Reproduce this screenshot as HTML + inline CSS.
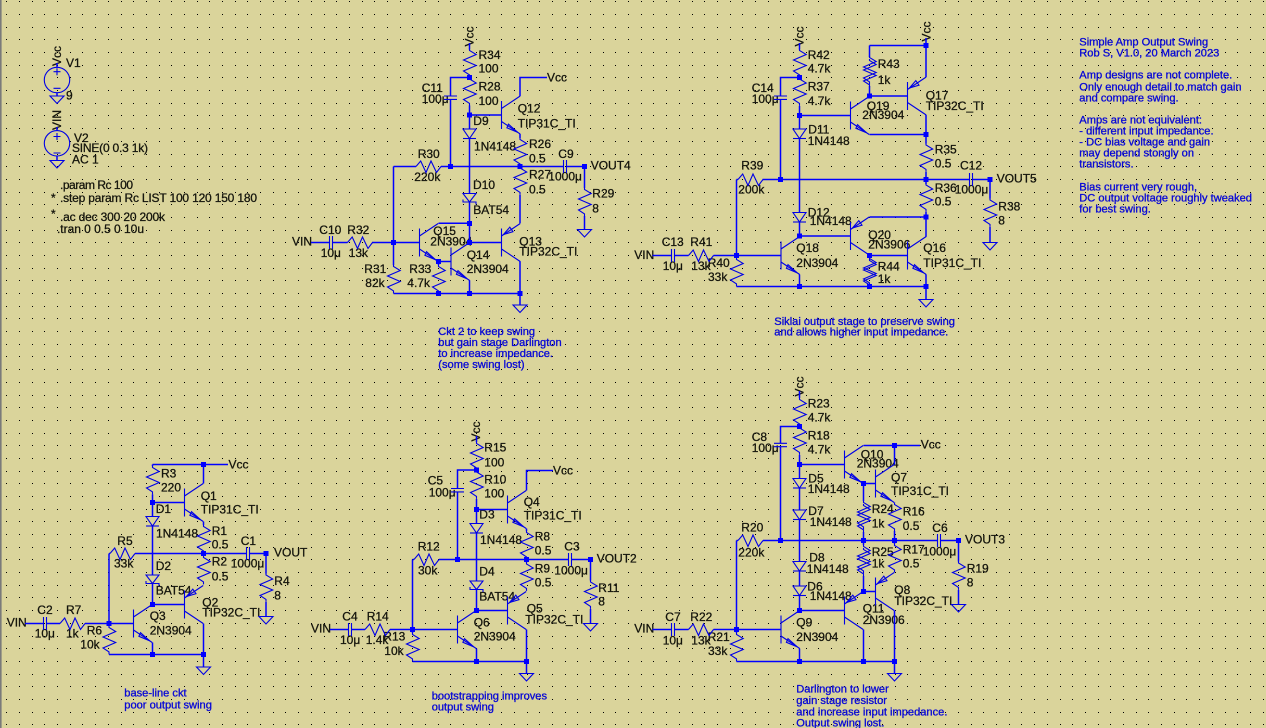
<!DOCTYPE html>
<html>
<head>
<meta charset="utf-8">
<style>
html,body{margin:0;padding:0;background:#dad49b;width:1266px;height:728px;overflow:hidden}
svg{display:block;position:absolute;left:0;top:0}
text{font-family:"Liberation Sans",sans-serif;font-size:12px;fill:#14140c;stroke:#14140c;stroke-width:.28;white-space:pre}
.n text{font-size:11.1px;fill:#0808d6;stroke:#0808d6;stroke-width:.32}
.w{fill:none;stroke:#0000ff;stroke-width:1.5}
.c,.c *{fill:none;stroke:#0000e6;stroke-width:1.1}
</style>
</head>
<body>
<svg id="s" width="1266" height="728" viewBox="0 0 1266 728" xmlns="http://www.w3.org/2000/svg">
<defs>
<path id="rv" d="M0 0v1.5l6.7 4-12.7 5.5 12.7 5.5-12.7 5.5 6 3.9v2.5"/>
<path id="rh" d="M0 0l4.7-5.5 5.3 11.5 5-11.5 5.5 11.5 4.5-6"/>
<path id="gnd" d="M-7 0h14L0 7.5z"/>
<g id="d"><path d="M-6.5 0h13L0 9.5z" style="fill:#dad49b"/><path d="M-6.5 9.5h13"/></g>
<g id="ds"><path d="M-6.5 0h13L0 8.5z" style="fill:#dad49b"/><path d="M-6.5 6v2.5h13v2.5"/></g>
<path id="cv" d="M-6.5 0h13M-6.5 3.4h13"/>
<path id="ch" d="M0-6.5v13M3-6.5v13"/>
<g id="npn"><path d="M0-14V14M0-6.5L18.7-19M0 6.5L18.7 19"/><path d="M16 17.2L7 9.2l-1.6 3.6z"/></g>
<g id="pnp"><path d="M0-14V14M0-6.5L18.7-19M0 6.5L18.7 19"/><path d="M2-8L11.5-10.8 8.3-15.3z"/></g>
<rect id="j" x="-2.5" y="-2.5" width="5" height="5" fill="#0000ff"/>
</defs>
<rect x="0" y="0" width="1266" height="728" fill="#dad49b"/>
<g id="grid"></g>
<rect x="0" y="0" width="1.6" height="728" fill="#7a7a7a"/>

<!-- text -->
<g>
<text transform="translate(61,56) rotate(-90)" text-anchor="middle">Vcc</text>
<text transform="translate(61,120) rotate(-90)" text-anchor="middle">VIN</text>
<text x="66" y="67">V1</text><text x="66" y="99.5">9</text>
<text x="74" y="142">V2</text><text x="72" y="152" textLength="76">SINE(0 0.3 1k)</text><text x="72" y="163.5">AC 1</text>
<text x="60" y="189" textLength="73">.param Rc 100</text>
<text x="51" y="202">*</text><text x="60" y="202" textLength="197">.step param Rc LIST 100 120 150 180</text>
<text x="51" y="218">*</text><text x="60" y="221" textLength="105">.ac dec 300 20 200k</text>
<text x="57" y="233" textLength="87">.tran 0 0.5 0 10u</text>

<text transform="translate(473.5,36.5) rotate(-90)" text-anchor="middle">Vcc</text>
<text x="478.5" y="59">R34</text><text x="478.5" y="72.7">100</text>
<text x="421.7" y="92">C11</text><text x="421.7" y="103">100μ</text>
<text x="478.5" y="90.7">R28</text><text x="478.5" y="105">100</text>
<text x="547" y="81.5">Vcc</text>
<text x="517.7" y="112.7">Q12</text><text x="517.7" y="127.3">TIP31C_TI</text>
<text x="473.3" y="125">D9</text><text x="474" y="150.7">1N4148</text>
<text x="529" y="148">R26</text><text x="529" y="162.3">0.5</text>
<text x="417.7" y="158">R30</text><text x="414.3" y="181">220k</text>
<text x="558.3" y="158">C9</text><text x="548.3" y="180.7">1000μ</text>
<text x="590.7" y="169.7">VOUT4</text>
<text x="529" y="178.7">R27</text><text x="529" y="193.7">0.5</text>
<text x="473" y="189">D10</text>
<text x="592.3" y="197.7">R29</text><text x="592.3" y="212.7">8</text>
<text x="473.3" y="214">BAT54</text>
<text x="433.3" y="235">Q15</text><text x="430.3" y="245.3">2N3904</text>
<text x="519.3" y="245.3">Q13</text><text x="519.3" y="255.7">TIP32C_TI</text>
<text x="466.7" y="259">Q14</text><text x="466.7" y="273">2N3904</text>
<text x="364.3" y="273">R31</text><text x="365.3" y="287">82k</text>
<text x="409.3" y="273">R33</text><text x="407.3" y="287">4.7k</text>
<text x="319.3" y="234">C10</text><text x="320.7" y="257">10μ</text>
<text x="347.3" y="234">R32</text><text x="348.7" y="257">13k</text>
<text x="292" y="245.7">VIN</text>

<text transform="translate(803.5,36.5) rotate(-90)" text-anchor="middle">Vcc</text>
<text transform="translate(930.5,31.5) rotate(-90)" text-anchor="middle">Vcc</text>
<text x="807.7" y="59">R42</text><text x="807.7" y="72.7">4.7k</text>
<text x="807.7" y="90.7">R37</text><text x="807.7" y="105">4.7k</text>
<text x="751.7" y="92">C14</text><text x="751.7" y="103">100μ</text>
<text x="808.3" y="133.7">D11</text><text x="807.7" y="145">1N4148</text>
<text x="877.7" y="68">R43</text><text x="877.7" y="84">1k</text>
<text x="866.7" y="110">Q19</text><text x="862.3" y="119">2N3904</text>
<text x="925.7" y="99.3">Q17</text><text x="925.7" y="110">TIP32C_TI</text>
<text x="934.7" y="153.7">R35</text><text x="934.7" y="167.7">0.5</text>
<text x="960" y="169.7">C12</text><text x="996.7" y="182.7">VOUT5</text>
<text x="741.3" y="169.7">R39</text><text x="738.3" y="193.7">200k</text>
<text x="934.7" y="192">R36</text><text x="954.7" y="193.3">1000μ</text><text x="934.7" y="205.7">0.5</text>
<text x="998.3" y="210.7">R38</text><text x="998.3" y="224.7">8</text>
<text x="807.7" y="216.7">D12</text><text x="809.7" y="225">1N4148</text>
<text x="868.3" y="239">Q20</text><text x="868.3" y="248.7">2N3906</text>
<text x="796.3" y="252">Q18</text><text x="796.3" y="267">2N3904</text>
<text x="923.3" y="252">Q16</text><text x="923.3" y="267">TIP31C_TI</text>
<text x="661.7" y="246">C13</text><text x="662.7" y="270">10μ</text>
<text x="690.3" y="246">R41</text><text x="691.3" y="270">13k</text>
<text x="707.7" y="267">R40</text><text x="708" y="281">33k</text>
<text x="877.7" y="270.7">R44</text><text x="877.7" y="283">1k</text>
<text x="634.3" y="259">VIN</text>

<text x="228.5" y="468.5">Vcc</text>
<text x="161" y="477.7">R3</text><text x="161" y="491.7">220</text>
<text x="200.7" y="500">Q1</text><text x="200.7" y="513.7">TIP31C_TI</text>
<text x="155.7" y="513">D1</text><text x="156" y="537.3">1N4148</text>
<text x="211.7" y="535">R1</text><text x="211.7" y="548.7">0.5</text>
<text x="240.7" y="545">C1</text><text x="230.7" y="567.3">1000μ</text>
<text x="274" y="556.7">VOUT</text>
<text x="117.3" y="545">R5</text><text x="114" y="567.7">33k</text>
<text x="155.7" y="570">D2</text>
<text x="211.7" y="565.7">R2</text><text x="211.7" y="580.7">0.5</text>
<text x="274.3" y="585">R4</text><text x="274.3" y="599.7">8</text>
<text x="155.7" y="594.7">BAT54</text>
<text x="202.3" y="606.7">Q2</text><text x="202.3" y="616.7">TIP32C_TI</text>
<text x="149.7" y="620">Q3</text><text x="149.7" y="634.7">2N3904</text>
<text x="37.3" y="614">C2</text><text x="34.7" y="637.7">10μ</text>
<text x="66" y="614">R7</text><text x="66" y="637.7">1k</text>
<text x="86.7" y="634.3">R6</text><text x="80.3" y="648.7">10k</text>
<text x="6.7" y="626.7">VIN</text>

<text transform="translate(480,431.5) rotate(-90)" text-anchor="middle">Vcc</text>
<text x="484.3" y="451.7">R15</text><text x="484.3" y="466.3">100</text>
<text x="427.7" y="484.7">C5</text><text x="428.7" y="496.7">100μ</text>
<text x="484.3" y="483.3">R10</text><text x="484.3" y="497.3">100</text>
<text x="553" y="474.5">Vcc</text>
<text x="523.7" y="506">Q4</text><text x="523.7" y="519.3">TIP31C_TI</text>
<text x="479.3" y="518.7">D3</text><text x="480" y="544">1N4148</text>
<text x="534.7" y="540.7">R8</text><text x="534.7" y="554.3">0.5</text>
<text x="417.7" y="550.7">R12</text><text x="418" y="574.7">30k</text>
<text x="564.3" y="550.7">C3</text><text x="554.3" y="574.7">1000μ</text>
<text x="596.7" y="562.7">VOUT2</text>
<text x="479.3" y="575.7">D4</text>
<text x="534.7" y="572.7">R9</text><text x="534.7" y="586.7">0.5</text>
<text x="598.3" y="592">R11</text><text x="598.3" y="605.7">8</text>
<text x="479.3" y="600.3">BAT54</text>
<text x="526.7" y="612.7">Q5</text><text x="525.3" y="623.3">TIP32C_TI</text>
<text x="473.7" y="626.7">Q6</text><text x="473.7" y="640.7">2N3904</text>
<text x="342.3" y="620.7">C4</text><text x="340" y="644">10μ</text>
<text x="366.7" y="620.7">R14</text><text x="365.7" y="644">1.4k</text>
<text x="383.3" y="640.7">R13</text><text x="384.3" y="655">10k</text>
<text x="311" y="632.7">VIN</text>

<text transform="translate(803.5,386.5) rotate(-90)" text-anchor="middle">Vcc</text>
<text x="807.7" y="407.7">R23</text><text x="807.7" y="421.7">4.7k</text>
<text x="751.7" y="441">C8</text><text x="751.7" y="452">100μ</text>
<text x="807.7" y="439.7">R18</text><text x="807.7" y="453.7">4.7k</text>
<text x="860.7" y="458.7">Q10</text><text x="856.7" y="467.7">2N3904</text>
<text x="920.7" y="448.7">Vcc</text>
<text x="891" y="481.7">Q7</text><text x="891" y="495">TIP31C_TI</text>
<text x="808.3" y="482.7">D5</text><text x="807.7" y="493">1N4148</text>
<text x="871.7" y="513">R24</text><text x="871.7" y="527.7">1k</text>
<text x="902.7" y="515.7">R16</text><text x="902.7" y="530">0.5</text>
<text x="808.3" y="515">D7</text><text x="809.7" y="526">1N4148</text>
<text x="741.3" y="531.7">R20</text><text x="738.3" y="556.3">220k</text>
<text x="932.3" y="532">C6</text><text x="965" y="543.3">VOUT3</text>
<text x="871.7" y="556">R25</text><text x="871.7" y="567.7">1k</text>
<text x="902.7" y="553.3">R17</text><text x="922.7" y="555.7">1000μ</text><text x="902.7" y="567.7">0.5</text>
<text x="966.7" y="572.7">R19</text><text x="966.7" y="586.7">8</text>
<text x="809.3" y="561.7">D8</text><text x="806.7" y="573">1N4148</text>
<text x="807.3" y="590.7">D6</text><text x="809.7" y="600">1N4148</text>
<text x="894.3" y="594">Q8</text><text x="894.3" y="605">TIP32C_TI</text>
<text x="862.7" y="612.7">Q11</text><text x="862.7" y="624">2N3906</text>
<text x="796.3" y="626.7">Q9</text><text x="796.3" y="641">2N3904</text>
<text x="665.3" y="621">C7</text><text x="662.7" y="644.3">10μ</text>
<text x="690.3" y="621">R22</text><text x="691.3" y="644.3">13k</text>
<text x="707.7" y="641">R21</text><text x="708" y="655">33k</text>
<text x="634.3" y="632.7">VIN</text>
</g>

<g class="n">
<text x="438.3" y="335">Ckt 2 to keep swing</text>
<text x="438.3" y="346">but gain stage Darlington</text>
<text x="438.3" y="357">to increase impedance.</text>
<text x="438.3" y="368">(some swing lost)</text>
<text x="774.3" y="325">Siklai output stage to preserve swing</text>
<text x="774.3" y="335.7">and allows higher input impedance.</text>
<text x="124.3" y="696.7">base-line ckt</text>
<text x="124.3" y="708.3">poor output swing</text>
<text x="431.7" y="699.3">bootstrapping improves</text>
<text x="431.7" y="710.7">output swing</text>
<text x="796.3" y="692.7">Darlington to lower</text>
<text x="796.3" y="704">gain stage resistor</text>
<text x="796.3" y="715.3">and increase input impedance.</text>
<text x="796.3" y="726.7">Output swing lost.</text>
<text x="1079.3" y="45.7">Simple Amp Output Swing</text>
<text x="1079.3" y="56.7">Rob S, V1.0, 20 March 2023</text>
<text x="1079.3" y="78.7">Amp designs are not complete.</text>
<text x="1079.3" y="90.7">Only enough detail to match gain</text>
<text x="1079.3" y="101.7">and compare swing.</text>
<text x="1079.3" y="123.7">Amps are not equivalent:</text>
<text x="1079.3" y="134.7">- different input impedance.</text>
<text x="1079.3" y="145.7">- DC bias voltage and gain</text>
<text x="1079.3" y="156.7">may depend stongly on</text>
<text x="1079.3" y="167.7">transistors.</text>
<text x="1079.3" y="190.7">Bias current very rough,</text>
<text x="1079.3" y="201.7">DC output voltage roughly tweaked</text>
<text x="1079.3" y="212.7">for best swing.</text>
</g>

<!-- wires -->
<path class="w" d="M57 63V67.5M57 92.5V96M57 127V130.5M57 156V160.5"/>
<path class="w" d="M469.5 43V49.5M469.5 77.5H450.5V96M450.5 99.5V166.5M469.5 105.5V193.5M469.5 201.5V242.5M469.5 115H501.5M520 96V77.5H547M520 134V138M393.5 166.5H416M441 166.5H563.5M567 166.5H584.5V188M584.5 216V229.5M520 195V223.3M520 261.3V305M393.5 166.5V265M311 242.5H329.5M332.5 242.5H347.5M372 242.5H419.5M438.5 223.3H469.5M438.5 261.5V265M451 261.5H438.5M393.5 293.5H520M469.5 280.3V293.5M469.5 242.5H501.5"/>
<path class="w" d="M799.5 43V49.5M799.5 77.5H780.5V96M780.5 99.5V179.5M799.5 106V212.5M799.5 221.5V236M799.5 115.5H850.5M869.5 134.5H926M926 38V77M869.5 45.5H926M869.5 45.5V57M869.5 86V96H907.5M926 115V143.5M926 172V184M736.5 179.5H738M736.5 179.5V258M762.5 179.5H969.5M973 179.5H990V198.5M990 227V242.5M926 212V236.7M869.5 217H926M926 274.5V299.5M799.5 236H850.5M799.5 274.5V286.5M869.5 255.5H907.5M869.5 255.5V258M736.5 255.5H781M736.5 286.5H926M652.5 255.5H671.5M674.5 255.5H688.5M713.5 255.5H736.5"/>
<path class="w" d="M152.5 464.5H228M152.5 464.5V466M152.5 494.4V516.5M152.5 502.5H184.5M152.5 526V575M152.5 583.5V604.5H184.5M203.5 464.5V483.5M203.5 521.5V525M109 553.5H110M135 553.5H246.5M249.5 553.5H266V573.5M266 602V616.5M203.5 553.5V556M203.5 623.5V667M152.5 642.5V654.5M109 553.5V626M109 654.5H203.5M109 623.5H133.5M25 623.5H43.5M46.5 623.5H60M85 623.5H109"/>
<path class="w" d="M476.5 436V442M476.5 470H457.5V488.5M457.5 492V559.5M476.5 499V523.5M476.5 509.5H507.5M526.5 490.5V470.5H553M526.5 528.5V531M476.5 533V581M476.5 589.5V610.5H507.5M412.5 559.5H414M439 559.5H568.5M571.5 559.5H590.5V580.5M590.5 609V623.5M526.5 559.5V562.5M526.5 629.5V673.5M476.5 648.5V661.5M412.5 559.5V633M412.5 661.5H526.5M412.5 629.5H457.5M330 629.5H348.5M351.5 629.5H365M390 629.5H412.5"/>
<path class="w" d="M799.5 391V398M799.5 426.5H780.5V443.3M780.5 446.7V540.5M799.5 455V478.5M799.5 487.5V510M799.5 519.5V561.5M799.5 571V586M799.5 595.5V610.5M799.5 464.5H844.5M863.5 445.5H920M863.5 483.5H875.5M894.5 445.5V464.5M894.5 502.5V503M894.5 531V540.5M863.5 483.5V501M863.5 532V540.5M736.5 540.5H738M763 540.5H937.5M940.5 540.5H958.5V561.5M958.5 590V604.5M863.5 540.5V545M863.5 576V591.5H875.5M894.5 540.5V544M894.5 610.5V673.5M799.5 610.5H844.5M863.5 629.5V661.5M799.5 648.5V661.5M736.5 629.5H781M736.5 540.5V633M736.5 661.5H894.5M652.5 629.5H671.5M674.5 629.5H688.5M713.5 629.5H736.5"/>

<!-- components -->
<g class="c">
<circle cx="57" cy="80" r="12.7"/><circle cx="57" cy="143.3" r="12.7"/>
<path d="M53.5 71.7h7M57 68.2v7M53.5 88.3h7M53.5 136.5h7M57 133v7M53.5 153h7"/>
<use href="#gnd" x="57" y="96"/><use href="#gnd" x="57" y="160.5"/>

<use href="#rv" x="469.5" y="49"/><use href="#rv" x="469.5" y="77.5"/><use href="#rv" x="520" y="138"/><use href="#rv" x="520" y="166.5"/><use href="#rv" x="584.5" y="188"/><use href="#rv" x="393.5" y="265"/><use href="#rv" x="438.5" y="265"/>
<use href="#rh" x="416" y="166.5"/><use href="#rh" x="347.5" y="242.5"/>
<use href="#cv" x="450.5" y="96"/><use href="#ch" x="563.5" y="166.5"/><use href="#ch" x="329.5" y="242.5"/>
<use href="#d" x="469.5" y="129"/><use href="#ds" x="469.5" y="193.5"/>
<use href="#npn" x="501.5" y="115"/><use href="#pnp" x="501.5" y="242.5"/><use href="#npn" x="419.5" y="242.5"/><use href="#npn" x="451" y="261.5"/>
<use href="#gnd" x="584.5" y="229.5"/><use href="#gnd" x="520" y="305"/>

<use href="#rv" x="799.5" y="49"/><use href="#rv" x="799.5" y="77.5"/><use href="#rv" x="869.5" y="56"/><use href="#rv" x="869.5" y="59"/><use href="#rv" x="926" y="143.5"/><use href="#rv" x="926" y="183.5"/><use href="#rv" x="990" y="198.5"/><use href="#rv" x="869.5" y="257"/><use href="#rv" x="869.5" y="259"/><use href="#rv" x="736.5" y="258"/>
<use href="#rh" x="738" y="179.5"/><use href="#rh" x="688.5" y="255.5"/>
<use href="#cv" x="780.5" y="96"/><use href="#ch" x="969.5" y="179.5"/><use href="#ch" x="671.5" y="255.5"/>
<use href="#d" x="799.5" y="129"/><use href="#d" x="799.5" y="212.5"/>
<use href="#npn" x="850.5" y="115.5"/><use href="#pnp" x="907.5" y="96"/><use href="#pnp" x="850.5" y="236"/><use href="#npn" x="781" y="255.5"/><use href="#npn" x="907.5" y="255.5"/>
<use href="#gnd" x="926" y="299.5"/><use href="#gnd" x="990" y="242.5"/>

<use href="#rv" x="152.5" y="466"/><use href="#rv" x="203.5" y="525"/><use href="#rv" x="203.5" y="556"/><use href="#rv" x="266" y="573.5"/><use href="#rv" x="109" y="626"/>
<use href="#rh" x="110" y="553.5"/><use href="#rh" x="60" y="623.5"/>
<use href="#ch" x="246.5" y="553.5"/><use href="#ch" x="43.5" y="623.5"/>
<use href="#d" x="152.5" y="516.5"/><use href="#ds" x="152.5" y="575"/>
<use href="#npn" x="184.5" y="502.5"/><use href="#pnp" x="184.5" y="604.5"/><use href="#npn" x="133.5" y="623.5"/>
<use href="#gnd" x="266" y="616.5"/><use href="#gnd" x="203.5" y="667"/>

<use href="#rv" x="476.5" y="442"/><use href="#rv" x="476.5" y="470.5"/><use href="#rv" x="526.5" y="531"/><use href="#rv" x="526.5" y="562.5"/><use href="#rv" x="590.5" y="580.5"/><use href="#rv" x="412.5" y="633"/>
<use href="#rh" x="414" y="559.5"/><use href="#rh" x="365" y="629.5"/>
<use href="#cv" x="457.5" y="488.5"/><use href="#ch" x="568.5" y="559.5"/><use href="#ch" x="348.5" y="629.5"/>
<use href="#d" x="476.5" y="523.5"/><use href="#ds" x="476.5" y="581"/>
<use href="#npn" x="507.5" y="509.5"/><use href="#pnp" x="507.5" y="610.5"/><use href="#npn" x="457.5" y="629.5"/>
<use href="#gnd" x="590.5" y="623.5"/><use href="#gnd" x="526.5" y="673.5"/>

<use href="#rv" x="799.5" y="398"/><use href="#rv" x="799.5" y="426.5"/><use href="#rv" x="894.5" y="503"/><use href="#rv" x="863.5" y="501"/><use href="#rv" x="863.5" y="504"/><use href="#rv" x="863.5" y="545"/><use href="#rv" x="863.5" y="548"/><use href="#rv" x="894.5" y="544"/><use href="#rv" x="958.5" y="561.5"/><use href="#rv" x="736.5" y="633"/>
<use href="#rh" x="738" y="540.5"/><use href="#rh" x="688.5" y="629.5"/>
<use href="#cv" x="780.5" y="443.3"/><use href="#ch" x="937.5" y="540.5"/><use href="#ch" x="671.5" y="629.5"/>
<use href="#d" x="799.5" y="478.5"/><use href="#d" x="799.5" y="510"/><use href="#d" x="799.5" y="561.5"/><use href="#d" x="799.5" y="586"/>
<use href="#npn" x="844.5" y="464.5"/><use href="#npn" x="875.5" y="483.5"/><use href="#pnp" x="875.5" y="591.5"/><use href="#pnp" x="844.5" y="610.5"/><use href="#npn" x="781" y="629.5"/>
<use href="#gnd" x="958.5" y="604.5"/><use href="#gnd" x="894.5" y="673.5"/>
</g>

<!-- junctions -->
<g>
<use href="#j" x="469.5" y="77.5"/><use href="#j" x="469.5" y="115"/><use href="#j" x="450.5" y="166.5"/><use href="#j" x="520" y="166.5"/><use href="#j" x="584.5" y="166.5"/><use href="#j" x="469.5" y="223.5"/><use href="#j" x="469.5" y="242.5"/><use href="#j" x="393.5" y="242.5"/><use href="#j" x="438.5" y="261.5"/><use href="#j" x="438.5" y="293.5"/><use href="#j" x="469.5" y="293.5"/><use href="#j" x="520" y="293.5"/>
<use href="#j" x="799.5" y="77.5"/><use href="#j" x="799.5" y="115.5"/><use href="#j" x="869.5" y="96"/><use href="#j" x="926" y="45.5"/><use href="#j" x="926" y="134.5"/><use href="#j" x="780.5" y="179.5"/><use href="#j" x="926" y="179.5"/><use href="#j" x="990" y="179.5"/><use href="#j" x="926" y="217"/><use href="#j" x="799.5" y="236"/><use href="#j" x="736.5" y="255.5"/><use href="#j" x="869.5" y="255.5"/><use href="#j" x="799.5" y="286.5"/><use href="#j" x="869.5" y="286.5"/><use href="#j" x="926" y="286.5"/>
<use href="#j" x="152.5" y="502.5"/><use href="#j" x="203.5" y="464.5"/><use href="#j" x="203.5" y="553.5"/><use href="#j" x="266" y="553.5"/><use href="#j" x="152.5" y="604.5"/><use href="#j" x="109" y="623.5"/><use href="#j" x="152.5" y="654.5"/><use href="#j" x="203.5" y="654.5"/>
<use href="#j" x="476.5" y="470"/><use href="#j" x="476.5" y="509.5"/><use href="#j" x="457.5" y="559.5"/><use href="#j" x="526.5" y="559.5"/><use href="#j" x="590.5" y="559.5"/><use href="#j" x="476.5" y="610.5"/><use href="#j" x="412.5" y="629.5"/><use href="#j" x="476.5" y="661.5"/><use href="#j" x="526.5" y="661.5"/>
<use href="#j" x="799.5" y="426.5"/><use href="#j" x="799.5" y="464.5"/><use href="#j" x="894.5" y="445.5"/><use href="#j" x="863.5" y="483.5"/><use href="#j" x="780.5" y="540.5"/><use href="#j" x="863.5" y="540.5"/><use href="#j" x="894.5" y="540.5"/><use href="#j" x="958.5" y="540.5"/><use href="#j" x="863.5" y="591.5"/><use href="#j" x="799.5" y="610.5"/><use href="#j" x="736.5" y="629.5"/><use href="#j" x="799.5" y="661.5"/><use href="#j" x="863.5" y="661.5"/><use href="#j" x="894.5" y="661.5"/>
</g>
</svg>
<script>
(function(){
var d='';
for(var j=0;j<58;j++){var y=Math.round(1.3+j*12.685);
for(var i=0;i<100;i++){var x=Math.round(6.3+i*12.69);
d+='M'+x+' '+y+'h1v1h-1z';}}
var p=document.createElementNS('http://www.w3.org/2000/svg','path');
p.setAttribute('d',d);p.setAttribute('fill','#000');p.setAttribute('shape-rendering','crispEdges');
document.getElementById('grid').appendChild(p);
})();
</script>
</body>
</html>
